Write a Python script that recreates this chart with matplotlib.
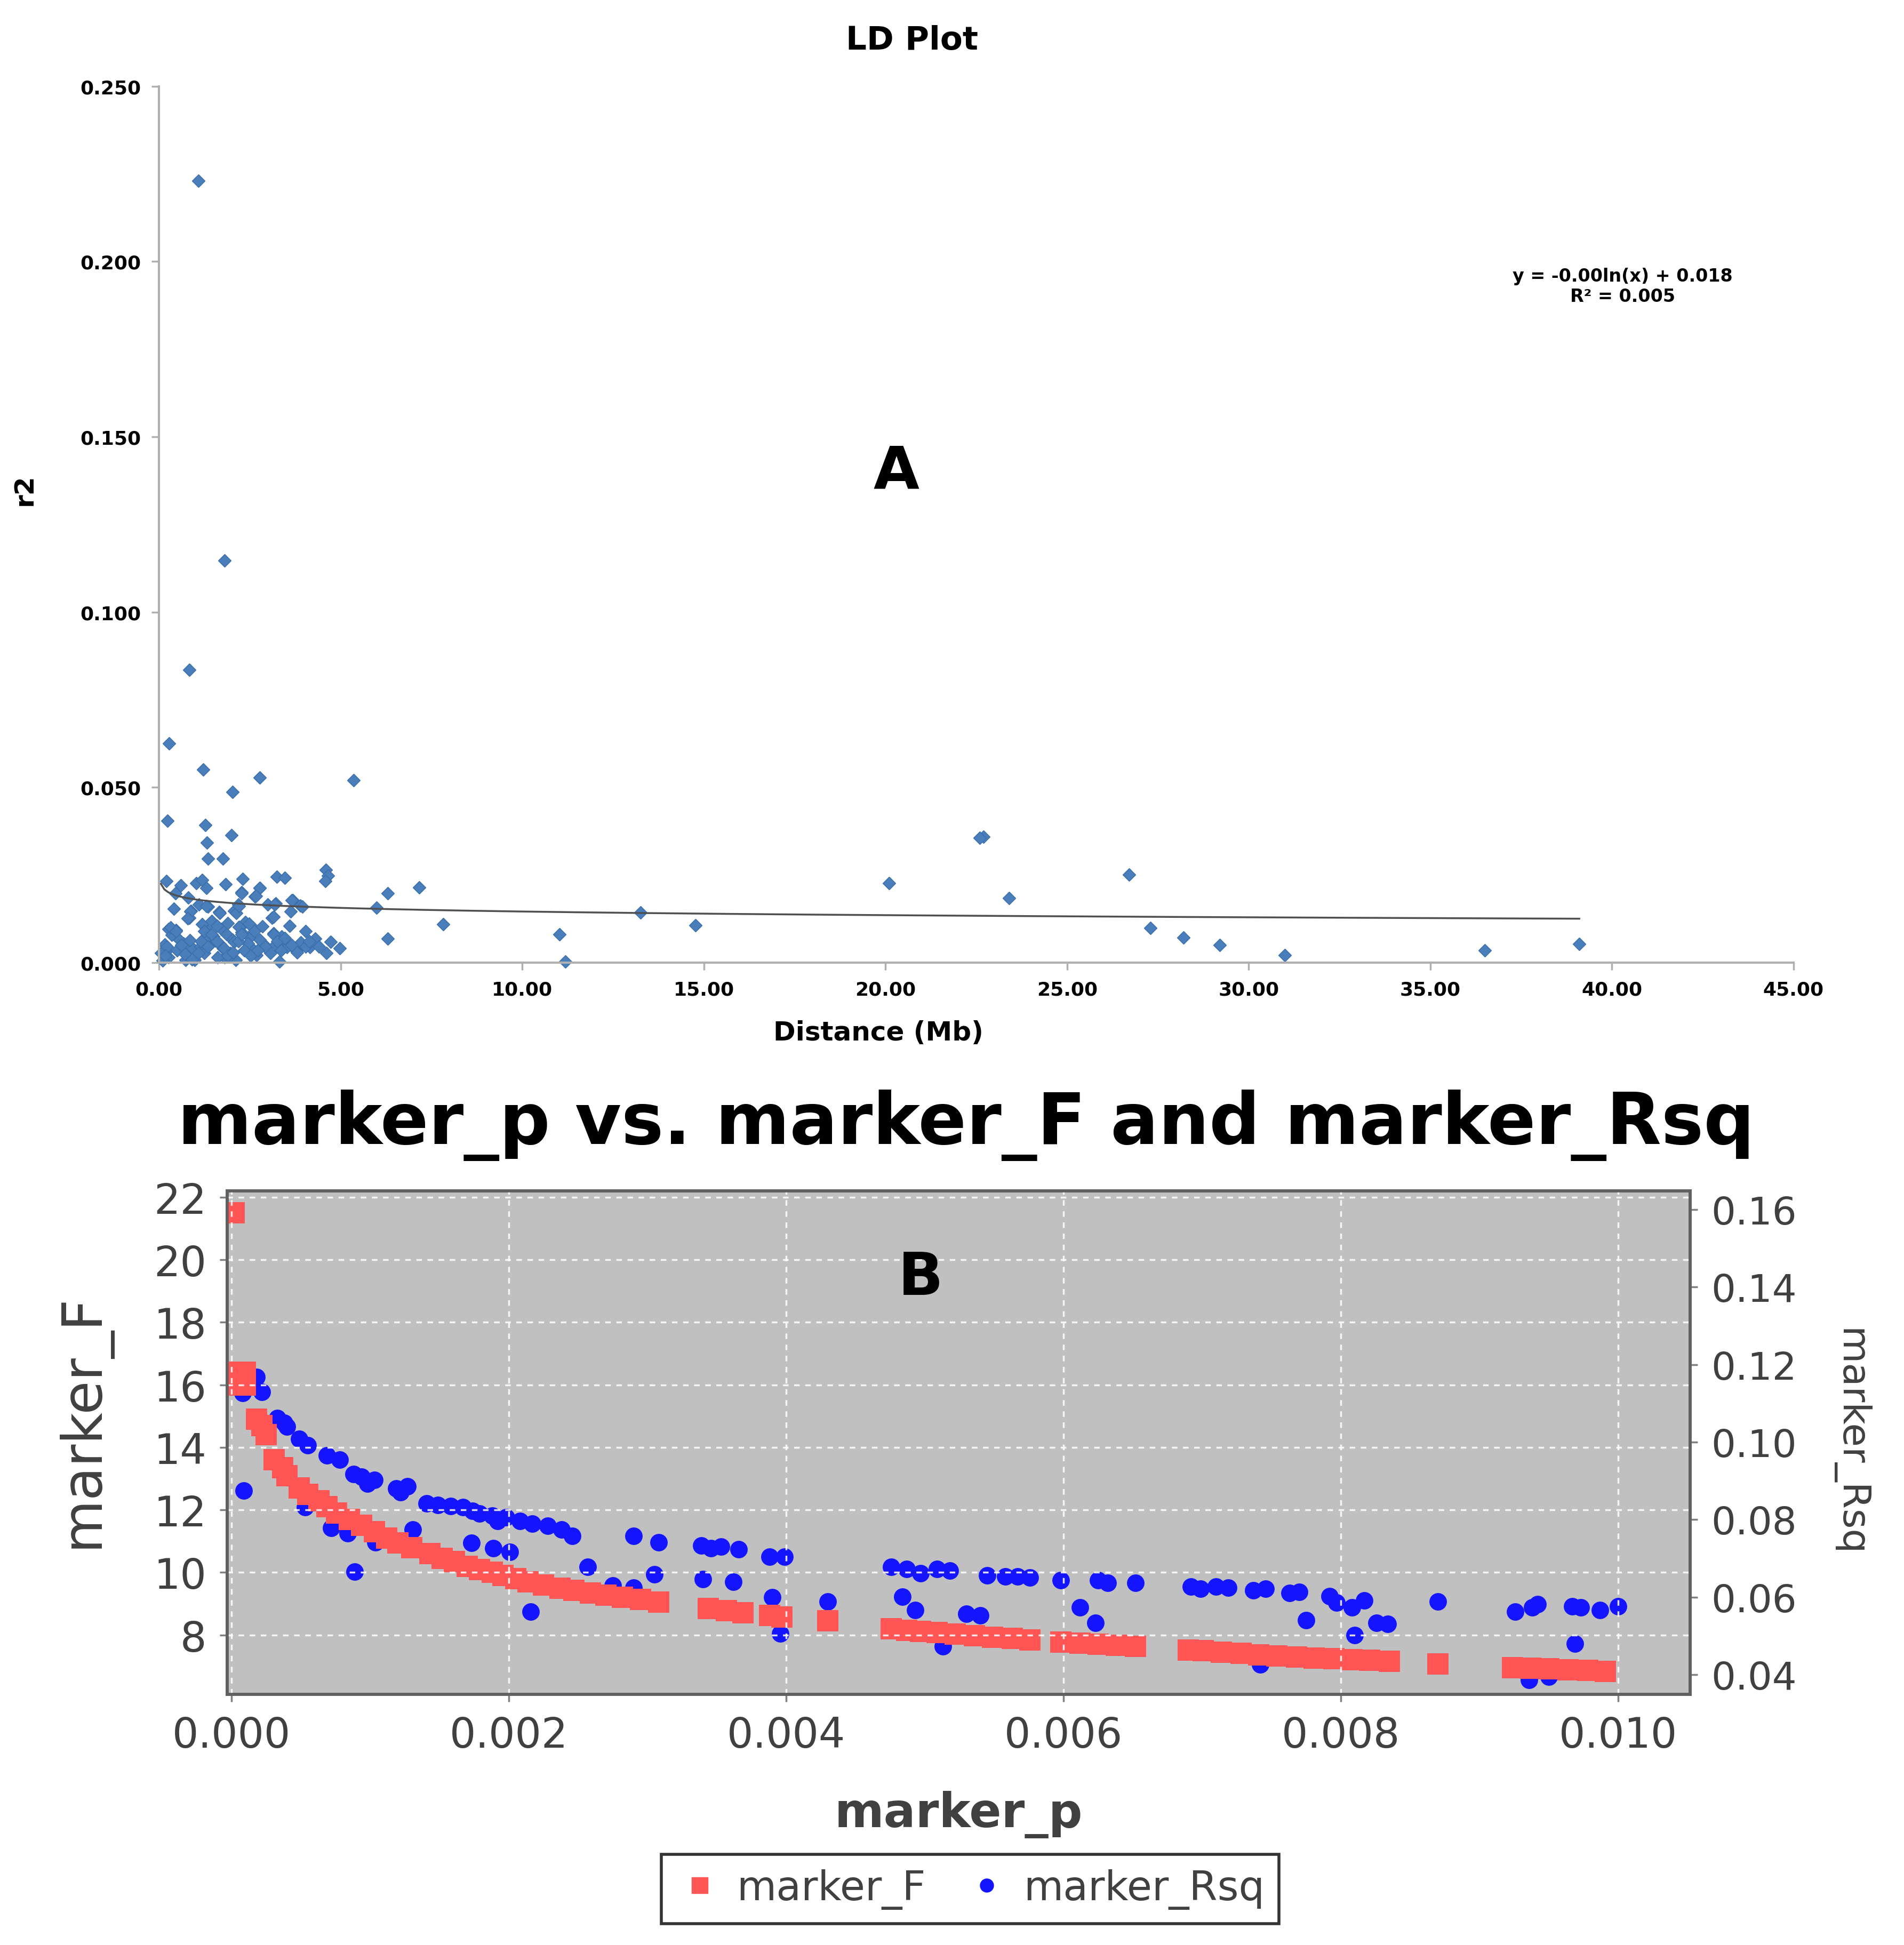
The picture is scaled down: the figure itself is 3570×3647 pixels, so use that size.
import numpy as np
import matplotlib
matplotlib.use("Agg")
import matplotlib.pyplot as plt
from matplotlib.lines import Line2D

# ---- panel A: LD decay (distance in Mb vs r2) ----
dist_mb = [1.09, 1.81, 0.83, 0.28, 1.21, 2.78, 5.36, 2.02, 0.23, 1.27, 2.00, 1.32, 1.35, 1.76,
           3.24, 3.47, 4.60, 4.66, 4.58, 0.21, 0.60, 1.02, 1.19, 1.30, 1.83, 2.30, 2.78, 2.28,
           2.64, 0.81, 3.21, 3.68, 3.89, 0.41, 1.35, 1.66, 0.88, 0.83, 2.07, 2.18, 5.99, 6.30,
           7.17, 7.82, 6.30, 11.02, 11.19, 13.26, 14.77, 3.11, 4.04, 0.26, 0.47, 1.19, 1.35,
           1.50, 1.71, 1.87, 2.02, 2.38, 2.59, 2.85, 2.28, 2.49, 3.16, 3.37, 3.47, 0.16, 0.21,
           0.26, 0.67, 0.93, 0.98, 1.14, 1.24, 1.76, 1.81, 1.97, 2.07, 2.12, 2.59, 2.69, 2.95,
           3.06, 3.32, 3.21, 3.52, 3.78, 4.15, 4.61, 4.72, 4.97, 0.73, 1.09, 1.61, 0.05, 0.10,
           22.70, 22.60, 26.70, 20.10, 23.40, 27.30, 28.20, 29.20, 31.00, 36.50, 39.10,
           1.45, 1.60, 1.90, 2.20, 2.45, 1.55, 1.68, 1.25, 0.55, 0.35, 3.60, 3.90, 4.30, 1.95,
           2.35, 0.50, 0.85, 3.00, 1.10, 0.45, 4.40,
           1.25, 1.45, 1.16, 1.35, 1.60, 1.79, 1.89, 2.04, 2.18, 2.28, 2.48, 2.62, 2.77, 2.92,
           3.16, 3.26, 3.36, 3.46, 3.65, 3.80, 4.04, 4.14, 0.62, 0.72, 0.91, 0.22, 0.18, 0.32,
           0.47, 2.53, 2.72, 0.86, 0.79, 1.30, 1.67, 2.13, 2.20, 2.28, 2.77, 2.67, 3.16, 3.18,
           3.65, 3.63, 3.95]
r2 = [0.2230, 0.1147, 0.0835, 0.0625, 0.0550, 0.0528, 0.0520, 0.0486, 0.0405, 0.0392, 0.0364,
      0.0342, 0.0296, 0.0296, 0.0245, 0.0241, 0.0264, 0.0248, 0.0232, 0.0232, 0.0221, 0.0226,
      0.0235, 0.0213, 0.0223, 0.0238, 0.0213, 0.0200, 0.0188, 0.0186, 0.0169, 0.0178, 0.0163,
      0.0154, 0.0160, 0.0144, 0.0147, 0.0128, 0.0147, 0.0166, 0.0156, 0.0197, 0.0214, 0.0109,
      0.0068, 0.0081, 0.0002, 0.0142, 0.0106, 0.0128, 0.0090, 0.0096, 0.0093, 0.0109, 0.0090,
      0.0074, 0.0096, 0.0081, 0.0065, 0.0115, 0.0100, 0.0103, 0.0087, 0.0071, 0.0084, 0.0074,
      0.0062, 0.0052, 0.0033, 0.0015, 0.0055, 0.0040, 0.0008, 0.0046, 0.0027, 0.0040, 0.0015,
      0.0027, 0.0059, 0.0008, 0.0037, 0.0021, 0.0046, 0.0027, 0.0002, 0.0052, 0.0043, 0.0033,
      0.0043, 0.0027, 0.0059, 0.0040, 0.0008, 0.0027, 0.0015, 0.0027, 0.0005,
      0.0358, 0.0355, 0.0251, 0.0227, 0.0184, 0.0099, 0.0071, 0.0050, 0.0021, 0.0035, 0.0053,
      0.0118, 0.0105, 0.0112, 0.0102, 0.0055, 0.0062, 0.0052, 0.0065, 0.0065, 0.0078, 0.0105,
      0.0058, 0.0068, 0.0018, 0.0035, 0.0035, 0.0063, 0.0165, 0.0165, 0.0198, 0.0045,
      0.0090, 0.0080, 0.0060, 0.0045, 0.0060, 0.0040, 0.0019, 0.0029, 0.0060, 0.0080, 0.0111,
      0.0090, 0.0065, 0.0045, 0.0080, 0.0060, 0.0035, 0.0070, 0.0050, 0.0029, 0.0045, 0.0060,
      0.0050, 0.0024, 0.0009, 0.0045, 0.0019, 0.0100, 0.0090, 0.0019, 0.0035, 0.0146, 0.0126,
      0.0161, 0.0141, 0.0141, 0.0161, 0.0197, 0.0212, 0.0190, 0.0131, 0.0166, 0.0177, 0.0146,
      0.0159]

# logarithmic trend line as reported on the chart (y = a*ln(x) + b)
trend_a = -0.0015
trend_b = 0.018
trend_label = "y = -0.00ln(x) + 0.018\nR\u00b2 = 0.005"

# ---- panel B: marker_p vs marker_F / marker_Rsq ----
p_f = [0.00002, 0.00003, 0.00010, 0.00003, 0.00010, 0.00018, 0.00022, 0.00025, 0.00031, 0.00037,
       0.00040, 0.00049, 0.00055, 0.00063, 0.00069, 0.00076, 0.00085, 0.00094, 0.00103, 0.00112,
       0.00120, 0.00130, 0.00143, 0.00152, 0.00161, 0.00170, 0.00179, 0.00188, 0.00196, 0.00205,
       0.00214, 0.00225, 0.00237, 0.00247, 0.00259, 0.00270, 0.00282, 0.00295, 0.00308, 0.00344,
       0.00357, 0.00369, 0.00388, 0.00397, 0.00430, 0.00476, 0.00487, 0.00497, 0.00509, 0.00522,
       0.00536, 0.00549, 0.00563, 0.00576, 0.00598, 0.00612, 0.00625, 0.00638, 0.00652, 0.00690,
       0.00701, 0.00714, 0.00728, 0.00741, 0.00754, 0.00768, 0.00781, 0.00795, 0.00808, 0.00821,
       0.00835, 0.00870, 0.00924, 0.00937, 0.00950, 0.00964, 0.00978, 0.00991]
marker_f = [21.5, 16.4, 16.4, 16.0, 16.0, 14.9, 14.7, 14.4, 13.6, 13.35,
            13.1, 12.7, 12.5, 12.3, 12.1, 11.9, 11.7, 11.5, 11.3, 11.1,
            10.95, 10.8, 10.6, 10.45, 10.35, 10.2, 10.1, 10.0, 9.9, 9.8,
            9.7, 9.6, 9.5, 9.42, 9.35, 9.28, 9.2, 9.13, 9.06, 8.85,
            8.78, 8.72, 8.62, 8.58, 8.45, 8.2, 8.15, 8.12, 8.08, 8.03,
            7.98, 7.93, 7.89, 7.85, 7.78, 7.74, 7.7, 7.67, 7.64, 7.52,
            7.5, 7.45, 7.41, 7.37, 7.33, 7.3, 7.27, 7.24, 7.21, 7.19,
            7.16, 7.08, 6.96, 6.93, 6.92, 6.88, 6.87, 6.84]

p_rsq = [0.00004, 0.00008, 0.00013, 0.00018, 0.00022, 0.00009, 0.00033, 0.00038, 0.00040, 0.00049,
         0.00055, 0.00069, 0.00078, 0.00088, 0.00094, 0.00098, 0.00103, 0.00119, 0.00122, 0.00127,
         0.00141, 0.00149, 0.00158, 0.00167, 0.00174, 0.00179, 0.00188, 0.00192, 0.00198, 0.00208,
         0.00217, 0.00228, 0.00238, 0.00246, 0.00290, 0.00308, 0.00339, 0.00346, 0.00353, 0.00366,
         0.00388, 0.00399, 0.00476, 0.00487, 0.00497, 0.00509, 0.00518, 0.00545, 0.00558, 0.00567,
         0.00576, 0.00598, 0.00625, 0.00632, 0.00652, 0.00692, 0.00699, 0.00710, 0.00719, 0.00737,
         0.00746, 0.00763, 0.00770, 0.00792, 0.00797, 0.00817, 0.00808, 0.00870, 0.00926, 0.00938,
         0.00942, 0.00967, 0.00973, 0.00987, 0.01000,
         0.00053, 0.00072, 0.00084, 0.00104, 0.00089, 0.00131, 0.00173, 0.00189, 0.00201, 0.00216,
         0.00257, 0.00275, 0.00290, 0.00305, 0.00340, 0.00362, 0.00390, 0.00396, 0.00430, 0.00484,
         0.00493, 0.00513, 0.00530, 0.00540, 0.00612, 0.00623, 0.00742, 0.00775, 0.00810, 0.00826,
         0.00834, 0.00969, 0.00936, 0.00950]
marker_rsq = [0.1146, 0.1126, 0.1158, 0.1168, 0.1130, 0.0875, 0.1062, 0.1050, 0.1040, 0.1008,
              0.0992, 0.0966, 0.0954, 0.0918, 0.0910, 0.0893, 0.0902, 0.0880, 0.0870, 0.0886,
              0.0842, 0.0838, 0.0835, 0.0832, 0.0822, 0.0816, 0.0810, 0.0797, 0.0806, 0.0797,
              0.0790, 0.0784, 0.0774, 0.0758, 0.0758, 0.0742, 0.0733, 0.0726, 0.0730, 0.0723,
              0.0704, 0.0704, 0.0678, 0.0672, 0.0662, 0.0672, 0.0669, 0.0656, 0.0653, 0.0653,
              0.0650, 0.0643, 0.0643, 0.0637, 0.0637, 0.0627, 0.0621, 0.0627, 0.0624, 0.0618,
              0.0621, 0.0611, 0.0614, 0.0602, 0.0586, 0.0592, 0.0573, 0.0589, 0.0563, 0.0573,
              0.0582, 0.0576, 0.0573, 0.0566, 0.0576,
              0.0832, 0.0778, 0.0765, 0.0742, 0.0665, 0.0774, 0.0740, 0.0726, 0.0717, 0.0563,
              0.0678, 0.0630, 0.0624, 0.0659, 0.0646, 0.0640, 0.0600, 0.0506, 0.0589, 0.0601,
              0.0566, 0.0473, 0.0557, 0.0553, 0.0573, 0.0534, 0.0426, 0.0541, 0.0502, 0.0534,
              0.0531, 0.0480, 0.0387, 0.0394]

fig = plt.figure(figsize=(35.7, 36.48), dpi=100)
fig.patch.set_facecolor("white")

# ---------------- panel A ----------------
axA = fig.add_axes([0.0835, 0.505, 0.8585, 0.4504])
axA.plot(dist_mb, r2, linestyle="none", marker="D", markersize=12,
         color="#4A7EBB", markeredgecolor="#3A6EAB", clip_on=False)

xs = np.linspace(min(dist_mb), max(dist_mb), 400)
axA.plot(xs, trend_a * np.log(xs) + trend_b, color="#505050", lw=2.5)

axA.set_xlim(0, 45)
axA.set_ylim(0, 0.25)
axA.set_xticks(np.arange(0, 46, 5))
axA.set_yticks(np.arange(0, 0.251, 0.05))
axA.set_xticklabels([f"{v:.2f}" for v in np.arange(0, 46, 5)])
axA.set_yticklabels([f"{v:.3f}" for v in np.arange(0, 0.251, 0.05)])
for s in ["top", "right"]:
    axA.spines[s].set_visible(False)
for s in ["left", "bottom"]:
    axA.spines[s].set_color("#B0B0B0")
    axA.spines[s].set_linewidth(3)
axA.tick_params(axis="both", colors="#B0B0B0", length=10, width=2.5, pad=14,
                labelsize=26, labelcolor="black")
for lab in axA.get_xticklabels() + axA.get_yticklabels():
    lab.set_fontweight("bold")

axA.text(40.3, 0.193, trend_label, ha="center", va="center", fontsize=24,
         fontweight="bold", multialignment="center")
axA.text(20.3, 0.140, "A", ha="center", va="center", fontsize=80, fontweight="bold")
fig.text(0.479, 0.979, "LD Plot", ha="center", va="center", fontsize=44, fontweight="bold")
axA.set_xlabel("Distance (Mb)", fontsize=36, fontweight="bold")
axA.xaxis.set_label_coords(0.44, -0.065)
axA.set_ylabel("r2", fontsize=36, fontweight="bold")
axA.yaxis.set_label_coords(-0.0744, 0.54)

# ---------------- panel B ----------------
axB = fig.add_axes([0.1193, 0.1288, 0.7684, 0.2588])
axR = axB.twinx()
axB.set_zorder(axR.get_zorder() + 1)
axB.patch.set_visible(False)
axR.patch.set_visible(True)
axR.set_facecolor("#C0C0C0")

axR.scatter(p_rsq, marker_rsq, s=560, marker="o", color="#1414FF", linewidths=0)
axB.scatter(p_f, marker_f, s=820, marker="s", color="#FF5555", linewidths=0)

axB.set_xlim(-0.00003, 0.01052)
axB.set_ylim(6.1, 22.2)
axR.set_ylim(0.0349, 0.1648)
axB.set_xticks(np.arange(0, 0.0101, 0.002))
axB.set_xticklabels([f"{v:.3f}" for v in np.arange(0, 0.0101, 0.002)])
axB.set_yticks(np.arange(8, 23, 2))
axR.set_yticks(np.arange(0.04, 0.161, 0.02))
axR.set_yticklabels([f"{v:.2f}" for v in np.arange(0.04, 0.161, 0.02)])

axB.grid(True, color="white", linestyle=(0, (3, 3)), linewidth=2.5, alpha=0.85)
for a in (axB, axR):
    for s in a.spines.values():
        s.set_color("#606060")
        s.set_linewidth(4)
axB.tick_params(axis="both", colors="#808080", length=10, width=2.5, pad=18,
                labelsize=56, labelcolor="#404040")
axR.tick_params(axis="y", colors="#808080", length=10, width=2.5, pad=18,
                labelsize=52, labelcolor="#404040")

axB.text(0.00497, 19.42, "B", ha="center", va="center", fontsize=80, fontweight="bold")

axB.set_xlabel("marker_p", fontsize=64, fontweight="bold", color="#404040")
axB.xaxis.set_label_coords(0.5, -0.19)
axB.set_ylabel("marker_F", fontsize=74, color="#404040")
axB.yaxis.set_label_coords(-0.08, 0.544)
axR.set_ylabel("marker_Rsq", fontsize=52, color="#404040", rotation=270, va="center")
axR.yaxis.set_label_coords(1.109, 0.502)

fig.text(0.5075, 0.4216, "marker_p vs. marker_F and marker_Rsq", ha="center", va="center",
         fontsize=96, fontweight="bold")

handles = [Line2D([], [], linestyle="none", marker="s", markersize=22, color="#FF5555"),
           Line2D([], [], linestyle="none", marker="o", markersize=18, color="#1414FF")]
leg = fig.legend(handles, ["marker_F", "marker_Rsq"], loc="center",
                 bbox_to_anchor=(0.5094, 0.0288), ncol=2, fontsize=55, frameon=True,
                 fancybox=False, handletextpad=0.3, columnspacing=0.9, borderpad=0.35,
                 handlelength=1.2)
leg.get_frame().set_edgecolor("black")
leg.get_frame().set_linewidth(4)
for t in leg.get_texts():
    t.set_color("#404040")

fig.savefig("out.png", dpi=100)
